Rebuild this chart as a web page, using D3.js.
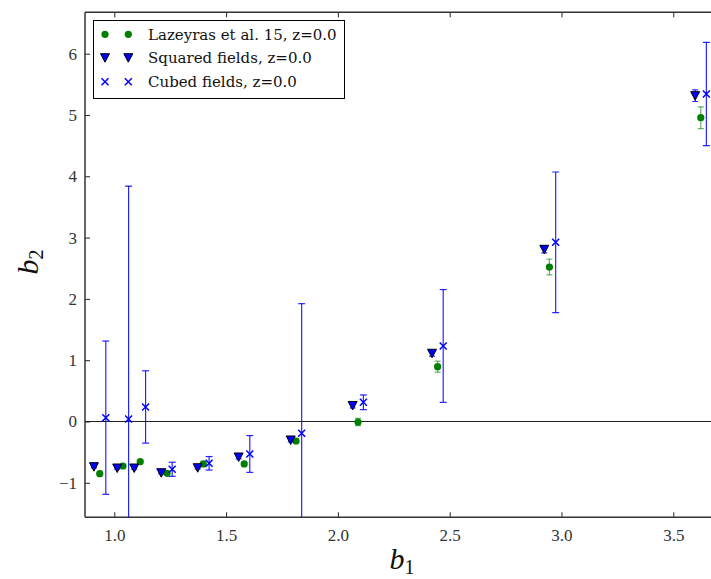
<!DOCTYPE html>
<html><head><meta charset="utf-8">
<script src="https://cdn.jsdelivr.net/npm/d3@7"></script>
<style>body{margin:0;background:#fff}svg{display:block}</style>
</head><body>
<svg id="chart" width="711" height="579"></svg>
<script>
// ---- data ----
const legendLabels = ["Lazeyras et al. 15, z=0.0", "Squared fields, z=0.0", "Cubed fields, z=0.0"];

const lazB1  = [0.935, 1.039, 1.116, 1.236, 1.398, 1.581, 1.813, 2.090, 2.446, 2.946, 3.623];
const lazB2  = [-0.852, -0.726, -0.656, -0.845, -0.693, -0.693, -0.318, -0.008, 0.894, 2.520, 4.956];
const lazErr = [0.02, 0.02, 0.02, 0.02, 0.03, 0.03, 0.03, 0.06, 0.09, 0.128, 0.177];

const sqB1  = [0.909, 1.013, 1.089, 1.210, 1.373, 1.556, 1.789, 2.066, 2.421, 2.923, 3.598];
const sqB2  = [-0.737, -0.759, -0.759, -0.835, -0.754, -0.579, -0.302, 0.261, 1.113, 2.809, 5.315];
const sqErr = [0.02, 0.02, 0.02, 0.02, 0.02, 0.03, 0.03, 0.04, 0.05, 0.06, 0.095];

const cuB1  = [0.962, 1.064, 1.140, 1.259, 1.424, 1.606, 1.838, 2.114, 2.471, 2.974, 3.648];
const cuB2  = [0.062, 0.041, 0.237, -0.780, -0.682, -0.530, -0.193, 0.313, 1.232, 2.923, 5.343];
const cuErr = [1.25, 3.8, 0.59, 0.115, 0.11, 0.30, 2.115, 0.12, 0.92, 1.147, 0.843];

const xTicks = [1.0, 1.5, 2.0, 2.5, 3.0, 3.5];
const yTicks = [-1, 0, 1, 2, 3, 4, 5, 6];

// ---- layout ----
const svg = d3.select("#chart");
const L = 85, R = 718, T = 12.3, B = 517.3;
const x = d3.scaleLinear().domain([0.869, 3.7]).range([L, R]);
const y = d3.scaleLinear().domain([-1.563, 6.675]).range([B, T]);

const tickFont = "Liberation Serif, DejaVu Serif, serif";

svg.append("defs").append("clipPath").attr("id", "clip")
  .append("rect").attr("x", L).attr("y", T).attr("width", R - L).attr("height", B - T);

// zero line
svg.append("line").attr("x1", L).attr("x2", R).attr("y1", y(0)).attr("y2", y(0))
  .attr("stroke", "#222").attr("stroke-width", 1.2);

// axes
const gx = svg.append("g").attr("transform", `translate(0,${B})`)
  .call(d3.axisBottom(x).tickValues(xTicks).tickFormat(d3.format(".1f"))
    .tickSizeInner(-5).tickSizeOuter(0).tickPadding(12));
const gxTop = svg.append("g").attr("transform", `translate(0,${T})`)
  .call(d3.axisTop(x).tickValues(xTicks).tickFormat("").tickSizeInner(-5).tickSizeOuter(0));
const gy = svg.append("g").attr("transform", `translate(${L},0)`)
  .call(d3.axisLeft(y).tickValues(yTicks).tickFormat(d3.format("d"))
    .tickSizeInner(-5).tickSizeOuter(0).tickPadding(8));
[gx, gxTop, gy].forEach(g => {
  g.attr("font-family", tickFont).attr("font-size", 17);
  g.select(".domain").remove();
  g.selectAll(".tick line").attr("stroke", "#222").attr("stroke-width", 1);
  g.selectAll(".tick text").attr("font-family", tickFont).attr("font-size", 17).attr("fill", "#333");
});

// spines
svg.append("line").attr("x1", L).attr("x2", L).attr("y1", T).attr("y2", B)
  .attr("stroke", "#333").attr("stroke-width", 1.5);
svg.append("line").attr("x1", L).attr("x2", R).attr("y1", B).attr("y2", B)
  .attr("stroke", "#333").attr("stroke-width", 1.5);
svg.append("line").attr("x1", L).attr("x2", R).attr("y1", T).attr("y2", T)
  .attr("stroke", "#333").attr("stroke-width", 1.5);

const plot = svg.append("g").attr("clip-path", "url(#clip)");

function errorbars(b1, b2, err, color, opacity, cap) {
  const g = plot.append("g").attr("stroke", color).attr("stroke-opacity", opacity).attr("stroke-width", 1.2);
  b1.forEach((v, i) => {
    const cx = x(v), y1 = y(b2[i] + err[i]), y2 = y(b2[i] - err[i]);
    g.append("line").attr("x1", cx).attr("x2", cx).attr("y1", y1).attr("y2", y2);
    g.append("line").attr("x1", cx - cap).attr("x2", cx + cap).attr("y1", y1).attr("y2", y1);
    g.append("line").attr("x1", cx - cap).attr("x2", cx + cap).attr("y1", y2).attr("y2", y2);
  });
}

const triPath = "M-4.5,-4 L4.5,-4 L0,4.5 Z";
const xPath = "M-3.5,-3.5 L3.5,3.5 M-3.5,3.5 L3.5,-3.5";

function drawCircle(g, cx, cy) {
  g.append("circle").attr("cx", cx).attr("cy", cy).attr("r", 3.6).attr("fill", "green");
}
function drawTri(g, cx, cy) {
  g.append("path").attr("d", triPath).attr("transform", `translate(${cx},${cy})`)
    .attr("fill", "blue").attr("stroke", "black").attr("stroke-width", 1);
}
function drawX(g, cx, cy) {
  g.append("path").attr("d", xPath).attr("transform", `translate(${cx},${cy})`)
    .attr("fill", "none").attr("stroke", "blue").attr("stroke-width", 1.5);
}

// Lazeyras
errorbars(lazB1, lazB2, lazErr, "green", 0.6, 3);
const gLaz = plot.append("g");
lazB1.forEach((v, i) => drawCircle(gLaz, x(v), y(lazB2[i])));

// Squared
errorbars(sqB1, sqB2, sqErr, "blue", 0.8, 3);
const gSq = plot.append("g");
sqB1.forEach((v, i) => drawTri(gSq, x(v), y(sqB2[i])));

// Cubed
errorbars(cuB1, cuB2, cuErr, "blue", 0.85, 3.5);
const gCu = plot.append("g");
cuB1.forEach((v, i) => drawX(gCu, x(v), y(cuB2[i])));

// legend
const lg = svg.append("g");
lg.append("rect").attr("x", 93.5).attr("y", 20.5).attr("width", 251).attr("height", 78)
  .attr("fill", "white").attr("stroke", "black").attr("stroke-width", 1);
const rowY = [34.3, 57.7, 81.7];
const drawers = [drawCircle, drawTri, drawX];
legendLabels.forEach((lab, i) => {
  drawers[i](lg, 105, rowY[i]);
  drawers[i](lg, 128.3, rowY[i]);
  lg.append("text").attr("x", 148).attr("y", rowY[i]).attr("dy", "0.36em")
    .attr("font-family", "DejaVu Serif, serif").attr("font-size", 15).attr("fill", "#111")
    .text(lab);
});

// axis labels
const xl = svg.append("text").attr("x", 402).attr("y", 569).attr("text-anchor", "middle")
  .attr("font-family", tickFont).attr("font-size", 30).attr("fill", "#111");
xl.append("tspan").attr("font-style", "italic").text("b");
xl.append("tspan").attr("font-size", 20).attr("dy", 5).text("1");

const yl = svg.append("text").attr("transform", "translate(38,262) rotate(-90)")
  .attr("text-anchor", "middle")
  .attr("font-family", tickFont).attr("font-size", 30).attr("fill", "#111");
yl.append("tspan").attr("font-style", "italic").text("b");
yl.append("tspan").attr("font-size", 20).attr("dy", 5).text("2");
</script>
</body></html>
